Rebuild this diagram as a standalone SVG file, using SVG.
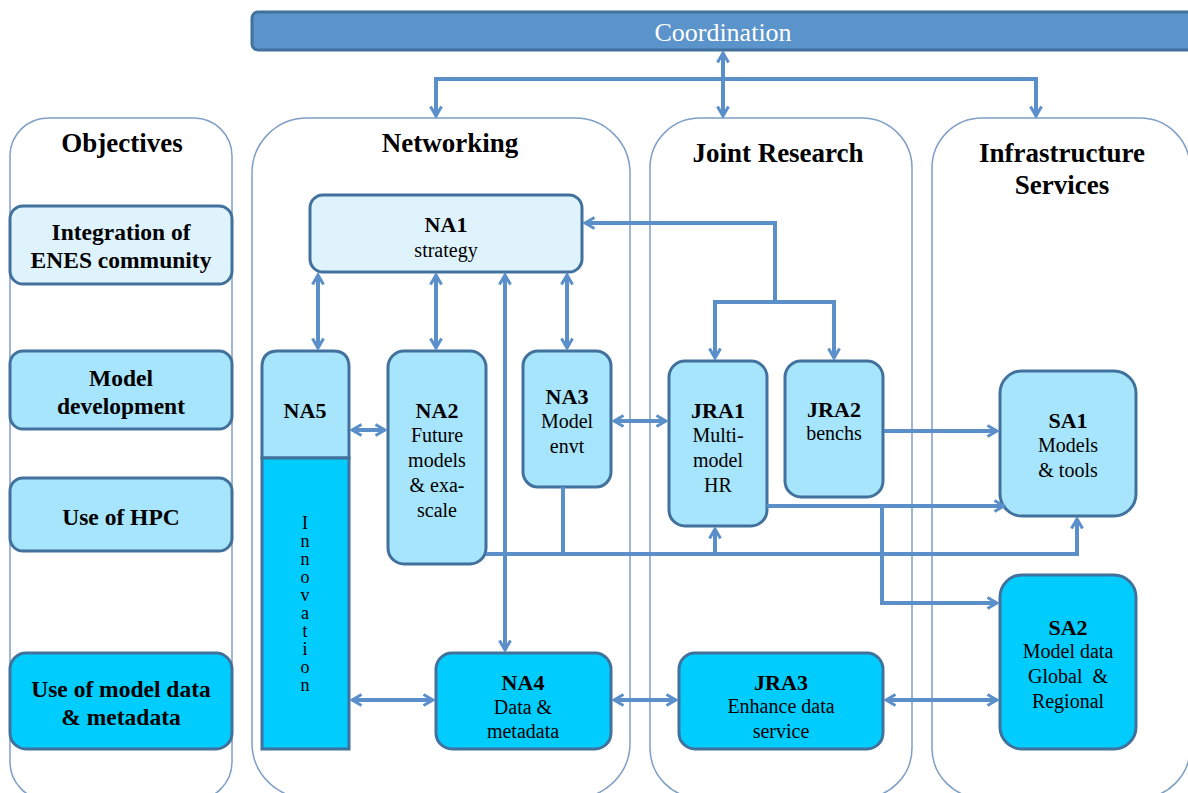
<svg xmlns="http://www.w3.org/2000/svg" width="1188" height="793" viewBox="0 0 1188 793">
<style>
.lane{fill:#fff;stroke:#7f9fc6;stroke-width:1.5}
.box{stroke:#41719c;stroke-width:3}
.l1{fill:#dff3fd}
.l2{fill:#a7e5fc}
.l3{fill:#00cdfe}
.f{font-family:"Liberation Serif","Times New Roman","DejaVu Serif",serif}
.title{font-weight:bold;font-size:27px;fill:#000;text-anchor:middle}
.obj{font-weight:bold;font-size:23.5px;fill:#000;text-anchor:middle}
.lab{font-weight:bold;font-size:22px;fill:#000;text-anchor:middle}
.txt{font-size:20px;fill:#000;text-anchor:middle}
.inn{font-size:18px;fill:#000;writing-mode:vertical-rl;text-orientation:upright}
.con{fill:none;stroke:#5a8fca;stroke-width:4}
</style>
<defs>
<marker id="ah" viewBox="0 0 14 14" refX="12" refY="7" markerWidth="14" markerHeight="14" markerUnits="userSpaceOnUse" orient="auto-start-reverse">
<path d="M2.5,1.5 L12,7 L2.5,12.5" fill="none" stroke="#5a8fca" stroke-width="3"/>
</marker>
</defs>
<rect width="1188" height="793" fill="#fff"/>

<g id="coordination">
<rect x="252" y="12" width="960" height="38" rx="6" fill="#5b93cb" stroke="#41719c" stroke-width="3"/>
<text class="f" x="723" y="41" font-size="26" fill="#fff" text-anchor="middle">Coordination</text>
</g>

<g id="lane-objectives">
<rect class="lane" x="10" y="118" width="222" height="682" rx="38"/>
<text class="f title" x="122" y="152">Objectives</text>
</g>
<g id="lane-networking">
<rect class="lane" x="252" y="118" width="378" height="680" rx="55"/>
<text class="f title" x="450" y="152">Networking</text>
</g>
<g id="lane-joint">
<rect class="lane" x="650" y="118" width="262" height="680" rx="50"/>
<text class="f title" x="778" y="162">Joint Research</text>
</g>
<g id="lane-infra">
<rect class="lane" x="932" y="118" width="258" height="680" rx="50"/>
<text class="f title" x="1062" y="162">Infrastructure</text>
<text class="f title" x="1062" y="194">Services</text>
</g>

<g id="obj-integration">
<rect class="box l1" x="10" y="206" width="222" height="78" rx="13"/>
<text class="f obj" x="121" y="240">Integration of</text>
<text class="f obj" x="121" y="268">ENES community</text>
</g>
<g id="obj-model">
<rect class="box l2" x="10" y="351" width="222" height="78" rx="13"/>
<text class="f obj" x="121" y="386">Model</text>
<text class="f obj" x="121" y="414">development</text>
</g>
<g id="obj-hpc">
<rect class="box l2" x="10" y="478" width="222" height="73" rx="13"/>
<text class="f obj" x="121" y="525">Use of HPC</text>
</g>
<g id="obj-data">
<rect class="box l3" x="10" y="653" width="222" height="96" rx="16"/>
<text class="f obj" x="121" y="697">Use of model data</text>
<text class="f obj" x="121" y="725">&amp; metadata</text>
</g>

<g id="NA1">
<rect class="box l1" x="310" y="195" width="272" height="77" rx="13"/>
<text class="f lab" x="446" y="232">NA1</text>
<text class="f txt" x="446" y="257">strategy</text>
</g>
<g id="NA5">
<path class="box l2" d="M262,458 L262,367 Q262,351 278,351 L333,351 Q349,351 349,367 L349,458 Z"/>
<text class="f lab" x="305" y="418">NA5</text>
</g>
<g id="Innovation">
<rect class="box l3" x="262" y="458" width="87" height="291"/>
<text class="f inn" x="305" y="513" letter-spacing="-2">Innovation</text>
</g>
<g id="NA2">
<rect class="box l2" x="388" y="351" width="98" height="213" rx="16"/>
<text class="f lab" x="437" y="418">NA2</text>
<text class="f txt" x="437" y="442">Future</text>
<text class="f txt" x="437" y="467">models</text>
<text class="f txt" x="437" y="492">&amp; exa-</text>
<text class="f txt" x="437" y="517">scale</text>
</g>
<g id="NA3">
<rect class="box l2" x="523" y="351" width="88" height="136" rx="15"/>
<text class="f lab" x="567" y="404">NA3</text>
<text class="f txt" x="567" y="428">Model</text>
<text class="f txt" x="567" y="453">envt</text>
</g>
<g id="NA4">
<rect class="box l3" x="436" y="653" width="175" height="96" rx="16"/>
<text class="f lab" x="523" y="690">NA4</text>
<text class="f txt" x="523" y="714">Data &amp;</text>
<text class="f txt" x="523" y="738">metadata</text>
</g>
<g id="JRA1">
<rect class="box l2" x="669" y="361" width="98" height="165" rx="16"/>
<text class="f lab" x="718" y="418">JRA1</text>
<text class="f txt" x="718" y="442">Multi-</text>
<text class="f txt" x="718" y="467">model</text>
<text class="f txt" x="718" y="492">HR</text>
</g>
<g id="JRA2">
<rect class="box l2" x="785" y="361" width="98" height="136" rx="16"/>
<text class="f lab" x="834" y="417">JRA2</text>
<text class="f txt" x="834" y="440">benchs</text>
</g>
<g id="JRA3">
<rect class="box l3" x="679" y="653" width="204" height="96" rx="16"/>
<text class="f lab" x="781" y="690">JRA3</text>
<text class="f txt" x="781" y="713">Enhance data</text>
<text class="f txt" x="781" y="738">service</text>
</g>
<g id="SA1">
<rect class="box l2" x="1000" y="371" width="136" height="145" rx="22"/>
<text class="f lab" x="1068" y="428">SA1</text>
<text class="f txt" x="1068" y="452">Models</text>
<text class="f txt" x="1068" y="477">&amp; tools</text>
</g>
<g id="SA2">
<rect class="box l3" x="1000" y="575" width="136" height="174" rx="22"/>
<text class="f lab" x="1068" y="635">SA2</text>
<text class="f txt" x="1068" y="658">Model data</text>
<text class="f txt" x="1068" y="683" xml:space="preserve">Global  &amp;</text>
<text class="f txt" x="1068" y="708">Regional</text>
</g>

<g id="connectors">
<path class="con" d="M723,53 L723,116" marker-start="url(#ah)" marker-end="url(#ah)"/>
<path class="con" d="M436,116 L436,79 L1036,79 L1036,116" marker-start="url(#ah)" marker-end="url(#ah)"/>
<path class="con" d="M318,275 L318,348" marker-start="url(#ah)" marker-end="url(#ah)"/>
<path class="con" d="M436,275 L436,348" marker-start="url(#ah)" marker-end="url(#ah)"/>
<path class="con" d="M505,275 L505,650" marker-start="url(#ah)" marker-end="url(#ah)"/>
<path class="con" d="M567,275 L567,348" marker-start="url(#ah)" marker-end="url(#ah)"/>
<path class="con" d="M352,430 L385,430" marker-start="url(#ah)" marker-end="url(#ah)"/>
<path class="con" d="M614,421 L666,421" marker-start="url(#ah)" marker-end="url(#ah)"/>
<path class="con" d="M585,223 L775,223 L775,302" marker-start="url(#ah)"/>
<path class="con" d="M715,358 L715,302 L834,302 L834,358" marker-start="url(#ah)" marker-end="url(#ah)"/>
<path class="con" d="M884,431 L997,431" marker-end="url(#ah)"/>
<path class="con" d="M767,506 L1004,506" marker-end="url(#ah)"/>
<path class="con" d="M882,506 L882,603 L997,603" marker-end="url(#ah)"/>
<path class="con" d="M486,554 L1077,554 L1077,519" marker-end="url(#ah)"/>
<path class="con" d="M563,487 L563,554"/>
<path class="con" d="M715,554 L715,529" marker-end="url(#ah)"/>
<path class="con" d="M352,700 L433,700" marker-start="url(#ah)" marker-end="url(#ah)"/>
<path class="con" d="M614,700 L676,700" marker-start="url(#ah)" marker-end="url(#ah)"/>
<path class="con" d="M886,700 L997,700" marker-start="url(#ah)" marker-end="url(#ah)"/>
</g>
</svg>
